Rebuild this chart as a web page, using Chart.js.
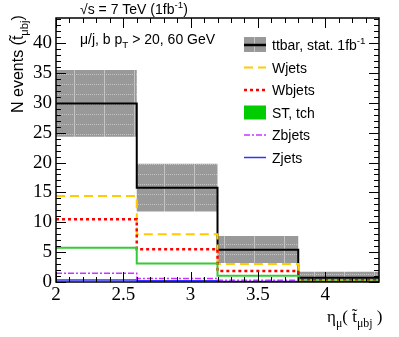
<!DOCTYPE html>
<html>
<head>
<meta charset="utf-8">
<script src="https://cdn.jsdelivr.net/npm/chart.js@4"></script>
<style>
  body { margin: 0; background: #fff; }
  #graf { display: block; }
</style>
</head>
<body>
<canvas id="graf" width="399" height="337"></canvas>
<script>
// bordes de los bins en eta
const edges = [2, 2.6, 3.2, 3.8, 4.4];
const xTicks = [2, 2.5, 3, 3.5, 4];
const yTicks = [0, 5, 10, 15, 20, 25, 30, 35, 40];

// valores por bin
const ttbar = [29.9, 15.8, 5.4, 0.7];
const ttbarUp = [35.5, 19.8, 7.7, 1.7];
const ttbarDown = [24.3, 11.8, 3.2, 0.0];
const wjets = [14.4, 8.0, 3.0, 0.2];
const wbjets = [10.5, 5.5, 1.85, 0.3];
const stTch = [5.75, 3.1, 1.05, 0.1];
const zbjets = [1.45, 0.6, 0.3, 0.05];
const zjets = [0.35, 0.2, 0.1, 0.02];

const canvas = document.getElementById('graf');
const ctx = canvas.getContext('2d');

// un punto por borde; el ultimo repite el valor del ultimo bin
function hist(vals){
  return edges.map((x, i) => ({x: x, y: vals[Math.min(i, vals.length - 1)]}));
}

function patronBanda(){
  let c = document.createElement('canvas');
  c.width = 30; c.height = 10;
  let g = c.getContext('2d');
  g.fillStyle = '#999999';
  g.fillRect(0, 0, 30, 10);
  g.fillStyle = '#c4c4c4';
  g.fillRect(14, 0, 1, 10);
  for (let x = 0; x < 30; x += 2) g.fillRect(x, 4, 1, 1);
  return ctx.createPattern(c, 'repeat');
}
const banda = patronBanda();

function linea(label, vals, color, width, dash){
  return {
    label: label, data: hist(vals), borderColor: color, borderWidth: width,
    borderDash: dash, stepped: 'before', pointRadius: 0, fill: false, order: 1
  };
}

const datasets = [
  {label: 'up', data: hist(ttbarUp), borderWidth: 0, borderColor: 'rgba(0,0,0,0)',
   backgroundColor: banda, stepped: 'before', pointRadius: 0, fill: '+1', order: 10},
  {label: 'down', data: hist(ttbarDown), borderWidth: 0, borderColor: 'rgba(0,0,0,0)',
   stepped: 'before', pointRadius: 0, fill: false, order: 10},
  linea('Zjets', zjets, '#3333ff', 1.5, []),
  linea('Zbjets', zbjets, '#cc33ff', 1.5, [6, 2, 2, 2]),
  linea('ST, tch', stTch, '#33cc33', 2, []),
  linea('Wbjets', wbjets, '#ff0000', 2.5, [3, 3]),
  linea('Wjets', wjets, '#ffcc00', 2, [9, 5]),
  linea('ttbar', ttbar, '#000000', 2, [])
];

// leyenda
const leyenda = [
  {text: 'ttbar, stat. 1fb', sup: '-1', tipo: 'banda', color: '#000', dash: [], w: 2.5},
  {text: 'Wjets', tipo: 'linea', color: '#ffcc00', dash: [9, 5], w: 2},
  {text: 'Wbjets', tipo: 'linea', color: '#ff0000', dash: [3, 3], w: 2.5},
  {text: 'ST, tch', tipo: 'caja', color: '#00cc00'},
  {text: 'Zbjets', tipo: 'linea', color: '#cc33ff', dash: [6, 2, 2, 2], w: 1.5},
  {text: 'Zjets', tipo: 'linea', color: '#3333ff', dash: [], w: 1.5}
];

const SANS = '"Liberation Sans", Arial, sans-serif';
const SERIF = '"Liberation Serif", "Times New Roman", serif';

// texto con sub/superindices: partes [texto, tipo]
function texto(c, x, y, partes, size, font){
  for (let p of partes){
    let s = p[1] ? size * 0.7 : size;
    let dy = p[1] == 'sub' ? size * 0.3 : (p[1] == 'sup' ? -size * 0.4 : 0);
    c.font = s + 'px ' + font;
    c.fillText(p[0], x, y + dy);
    x += c.measureText(p[0]).width;
  }
  return x;
}

const extras = {
  id: 'extras',
  afterDraw(chart){
    let c = chart.ctx;
    let a = chart.chartArea;
    let sx = chart.scales.x, sy = chart.scales.y;
    c.save();
    c.strokeStyle = '#000';
    c.lineWidth = 1.5;
    c.strokeRect(a.left, a.top, a.right - a.left, a.bottom - a.top);
    // ticks hacia dentro
    c.lineWidth = 1;
    c.beginPath();
    for (let i = 0; i <= 44; i++){
      let py = Math.round(sy.getPixelForValue(i)) + 0.5;
      if (py < a.top) break;
      let l = i % 5 == 0 ? 10 : 5;
      c.moveTo(a.left, py); c.lineTo(a.left + l, py);
      c.moveTo(a.right, py); c.lineTo(a.right - l, py);
    }
    for (let i = 20; i <= 44; i++){
      let px = Math.round(sx.getPixelForValue(i / 10)) + 0.5;
      if (px > a.right) break;
      let l = i % 5 == 0 ? 10 : 5;
      c.moveTo(px, a.bottom); c.lineTo(px, a.bottom - l);
      c.moveTo(px, a.top); c.lineTo(px, a.top + l);
    }
    c.stroke();

    c.fillStyle = '#000';
    c.textBaseline = 'alphabetic';
    c.textAlign = 'left';
    texto(c, 80, 14, [['\u221As = 7 TeV (1fb'], ['-1', 'sup'], [')']], 14, SANS);
    texto(c, 80, 44, [['\u03BC/j, b p'], ['T', 'sub'], [' > 20, 60 GeV']], 14, SANS);

    // leyenda
    let y0 = 45;
    leyenda.forEach((e, i) => {
      let y = y0 + i * 22.5;
      c.setLineDash([]);
      if (e.tipo == 'banda'){
        c.fillStyle = banda;
        c.fillRect(244, y - 8, 22, 15);
        c.strokeStyle = e.color; c.lineWidth = e.w;
        c.beginPath(); c.moveTo(244, y); c.lineTo(266, y); c.stroke();
      } else if (e.tipo == 'caja'){
        c.fillStyle = e.color;
        c.fillRect(244, y - 7, 22, 14);
      } else {
        c.strokeStyle = e.color; c.lineWidth = e.w;
        c.setLineDash(e.dash);
        c.beginPath(); c.moveTo(244, y); c.lineTo(266, y); c.stroke();
      }
      c.fillStyle = '#000';
      let partes = [[e.text]];
      if (e.sup) partes.push([e.sup, 'sup']);
      texto(c, 272, y + 5, partes, 14, SANS);
    });
    c.setLineDash([]);

    // titulo eje y
    c.save();
    c.translate(23, 113);
    c.rotate(-Math.PI / 2);
    texto(c, 0, 0, [['N events (t\u0303'], ['\u03BCbj', 'sub'], [')']], 16, SANS);
    c.restore();

    // titulo eje x
    texto(c, 327, 322, [['\u03B7'], ['\u03BC', 'sub'], ['( t\u0303'], ['\u03BCbj', 'sub'], [' )']], 17, SERIF);
    c.restore();
  }
};

const graf = new Chart(ctx, {
  type: 'line',
  data: {datasets: datasets},
  options: {
    responsive: false,
    animation: false,
    events: [],
    layout: {padding: {top: 18, right: 20, left: 0, bottom: 0}},
    plugins: {legend: {display: false}, tooltip: {enabled: false}},
    scales: {
      x: {
        type: 'linear', min: 2, max: 4.4,
        grid: {display: true, drawOnChartArea: false, drawTicks: false, color: 'rgba(0,0,0,0)'},
        border: {display: false},
        afterBuildTicks: s => { s.ticks = xTicks.map(v => ({value: v})); },
        afterFit: s => { s.height = 55; },
        ticks: {color: '#000', padding: 2, maxRotation: 0, font: {family: SERIF, size: 19},
                callback: v => String(v)}
      },
      y: {
        min: 0, max: 44.2,
        grid: {display: true, drawOnChartArea: false, drawTicks: false, color: 'rgba(0,0,0,0)'},
        border: {display: false},
        afterBuildTicks: s => { s.ticks = yTicks.map(v => ({value: v})); },
        afterFit: s => { s.width = 56; },
        ticks: {color: '#000', padding: 4, font: {family: SERIF, size: 19},
                callback: v => String(v)}
      }
    }
  },
  plugins: [extras]
});
</script>
</body>
</html>
